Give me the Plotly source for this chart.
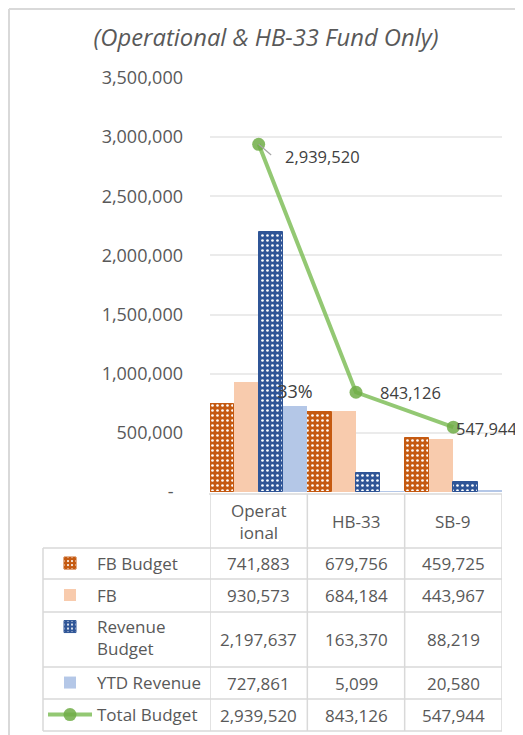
import plotly.graph_objects as go

W, H = 523, 735
OX, OY = 8, 8  # page offset of the figure inside the browser window

categories = ["Operational", "HB-33", "SB-9"]
header_labels = ["Operat<br>ional", "HB-33", "SB-9"]
fb_budget = [741883, 679756, 459725]
fb = [930573, 684184, 443967]
revenue_budget = [2197637, 163370, 88219]
ytd_revenue = [727861, 5099, 20580]
total_budget = [2939520, 843126, 547944]
y_tickvals = [0, 500000, 1000000, 1500000, 2000000, 2500000, 3000000, 3500000]
y_ticktext = ["-\u00a0\u00a0", "500,000", "1,000,000", "1,500,000", "2,000,000",
              "2,500,000", "3,000,000", "3,500,000"]

FONT = "Open Sans"
TXT = "#595959"
GRID = "#d9d9d9"


def px_x(p):
    return (p - OX) / W


def px_y(p):
    return 1 - (p - OY) / H


def fmt(v):
    return f"{v:,}"


pct_text = [f"{round(ytd_revenue[0] / revenue_budget[0] * 100)}%", "", ""]

dot_pattern = dict(shape=".", fgcolor="white", size=5, solidity=0.22, fillmode="replace")

fig = go.Figure()
fig.add_trace(go.Bar(
    name="FB Budget", x=categories, y=fb_budget, legend="legend",
    marker=dict(color="#C55A11", line=dict(color="#C55A11", width=1),
                pattern=dict(dot_pattern, bgcolor="#C55A11")),
))
fig.add_trace(go.Bar(
    name="FB", x=categories, y=fb, legend="legend2",
    marker=dict(color="#F8CBAD", line=dict(width=0)),
))
fig.add_trace(go.Bar(
    name="Revenue<br>Budget", x=categories, y=revenue_budget, legend="legend3",
    marker=dict(color="#2F5597", line=dict(color="#2F5597", width=1),
                pattern=dict(dot_pattern, bgcolor="#2F5597")),
))
fig.add_trace(go.Bar(
    name="YTD Revenue", x=categories, y=ytd_revenue, legend="legend4",
    marker=dict(color="#B4C7E7", line=dict(width=0)),
    text=pct_text, textposition="outside", cliponaxis=False, constraintext="none",
    textfont=dict(family=FONT, size=18, color="#404040"),
))
fig.add_trace(go.Scatter(
    name="Total Budget", x=categories, y=total_budget, legend="legend5",
    mode="lines+markers",
    line=dict(color="rgba(128,190,90,0.85)", width=4),
    marker=dict(color="rgba(112,173,71,0.85)", size=13),
    cliponaxis=False,
))

x_dom = [px_x(210), px_x(502)]
y_dom = [px_y(492), px_y(78)]

legend_rows = {"legend": 563.5, "legend2": 595.5, "legend3": 609, "legend4": 683, "legend5": 715}
layout_legends = {}
for key, yc in legend_rows.items():
    layout_legends[key] = dict(
        x=px_x(43), xanchor="left", y=px_y(yc),
        yanchor="top" if key == "legend3" else "middle",
        bgcolor="rgba(0,0,0,0)", borderwidth=0, itemwidth=44,
        font=dict(family=FONT, size=17, color=TXT),
        valign="top", itemclick=False, itemdoubleclick=False,
    )

shapes = []
line_style = dict(color=GRID, width=1.5)
shapes.append(dict(type="line", xref="paper", yref="paper", x0=px_x(209), x1=px_x(502),
                   y0=px_y(494), y1=px_y(494), line=line_style))
for yy in [548, 579, 612, 667, 699, 731]:
    shapes.append(dict(type="line", xref="paper", yref="paper", x0=px_x(43), x1=px_x(502),
                       y0=px_y(yy), y1=px_y(yy), line=line_style))
for xv in [-0.5, 0.5, 1.5, 2.5]:
    shapes.append(dict(type="line", xref="x", yref="paper", x0=xv, x1=xv,
                       y0=px_y(494), y1=px_y(731), line=line_style))
shapes.append(dict(type="line", xref="paper", yref="paper", x0=px_x(43), x1=px_x(43),
                   y0=px_y(548), y1=px_y(731), line=line_style))
# chart-area border (left and top)
shapes.append(dict(type="line", xref="paper", yref="paper", x0=1 / W, x1=1 / W,
                   y0=1 - 1 / H, y1=0, line=dict(color="#d9d9d9", width=2)))
shapes.append(dict(type="line", xref="paper", yref="paper", x0=1 / W, x1=1,
                   y0=1 - 1 / H, y1=1 - 1 / H, line=dict(color="#d9d9d9", width=2)))

annotations = []
# data labels of the Total Budget line
label_dx = [24, 22, 1]
label_dy = [-12, 0, -1]
for cat, v, dx, dy in zip(categories, total_budget, label_dx, label_dy):
    annotations.append(dict(x=cat, xref="x", y=v, yref="y", text=fmt(v), showarrow=False,
                            xanchor="left", yanchor="middle", xshift=dx, yshift=dy,
                            font=dict(family=FONT, size=16.5, color="#404040")))
# leader line for the first label
annotations.append(dict(x=categories[0], xref="x", y=total_budget[0], yref="y", text="",
                        showarrow=True, arrowhead=0, arrowwidth=1.2, arrowcolor="#a6a6a6",
                        ax=14, ay=12, standoff=0, startstandoff=0))
for cat, lab in zip(categories, header_labels):
    annotations.append(dict(x=cat, xref="x", y=px_y(521), yref="paper", text=lab,
                            showarrow=False, font=dict(family=FONT, size=17, color=TXT),
                            xanchor="center", yanchor="middle"))
rows = [(fb_budget, 563.5), (fb, 595.5), (revenue_budget, 639.5), (ytd_revenue, 683),
        (total_budget, 715)]
for vals, yc in rows:
    for cat, v in zip(categories, vals):
        annotations.append(dict(x=cat, xref="x", y=px_y(yc), yref="paper", text=fmt(v),
                                showarrow=False, font=dict(family=FONT, size=17, color=TXT),
                                xanchor="center", yanchor="middle"))

fig.update_layout(
    template="none",
    width=W, height=H, autosize=False,
    margin=dict(l=0, r=0, t=0, b=0, pad=0, autoexpand=False),
    paper_bgcolor="white", plot_bgcolor="white",
    barmode="group", bargap=0, bargroupgap=0,
    title=dict(text="(Operational & HB-33 Fund Only)", x=px_x(266), xanchor="center",
               y=px_y(38), yanchor="middle", xref="paper", yref="paper", automargin=False,
               font=dict(family=FONT, size=23.8, color=TXT, style="italic")),
    xaxis=dict(domain=x_dom, range=[-0.5, 2.5], autorange=False, type="category",
               showticklabels=False, showgrid=False, zeroline=False,
               showline=False, ticks="", automargin=False),
    yaxis=dict(domain=y_dom, range=[0, 3500000], autorange=False, tickvals=y_tickvals,
               ticktext=y_ticktext,
               showgrid=True, gridcolor="#ebebeb", gridwidth=2, zeroline=False,
               showline=False, ticks="", ticklabelstandoff=26, automargin=False,
               tickfont=dict(family=FONT, size=18, color=TXT)),
    shapes=shapes, annotations=annotations,
    showlegend=True,
    **layout_legends,
)

fig.write_html("out.html")
